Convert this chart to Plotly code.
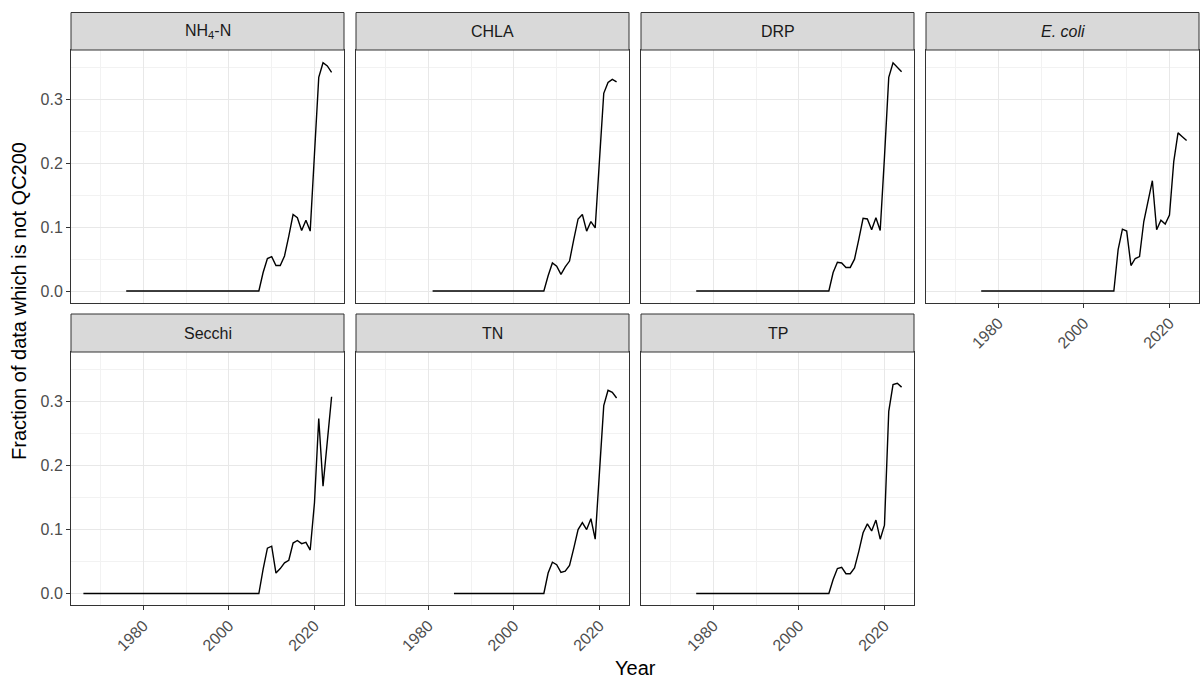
import plotly.graph_objects as go

# Fraction of records per year that are not flagged QC200, by parameter
RECENT_YEARS = [2007, 2008, 2009, 2010, 2011, 2012, 2013, 2014, 2015,
                2016, 2017, 2018, 2019, 2020, 2021, 2022, 2023, 2024]

START_YEAR = {
    "NH4-N": 1976, "CHLA": 1981, "DRP": 1976, "E. coli": 1976,
    "Secchi": 1966, "TN": 1986, "TP": 1976,
}

nh4n = [0.0, 0.029, 0.051, 0.054, 0.040, 0.040, 0.055, 0.086, 0.120,
        0.115, 0.095, 0.111, 0.094, 0.215, 0.335, 0.358, 0.353, 0.343]
chla = [0.0, 0.024, 0.044, 0.039, 0.026, 0.038, 0.047, 0.081, 0.113,
        0.120, 0.094, 0.109, 0.099, 0.205, 0.310, 0.327, 0.332, 0.328]
drp = [0.0, 0.029, 0.045, 0.044, 0.037, 0.037, 0.050, 0.081, 0.114,
       0.113, 0.096, 0.115, 0.095, 0.210, 0.335, 0.358, 0.351, 0.344]
ecoli = [0.0, 0.065, 0.097, 0.094, 0.040, 0.051, 0.054, 0.109, 0.140,
         0.173, 0.096, 0.111, 0.105, 0.119, 0.203, 0.248, 0.242, 0.236]
secchi = [0.0, 0.038, 0.071, 0.074, 0.032, 0.039, 0.048, 0.052, 0.079,
          0.083, 0.078, 0.080, 0.068, 0.142, 0.274, 0.168, 0.238, 0.308]
tn = [0.0, 0.032, 0.049, 0.045, 0.033, 0.035, 0.044, 0.071, 0.100,
      0.111, 0.100, 0.117, 0.085, 0.190, 0.294, 0.318, 0.315, 0.306]
tp = [0.0, 0.022, 0.039, 0.041, 0.031, 0.031, 0.040, 0.066, 0.095,
      0.109, 0.098, 0.115, 0.085, 0.107, 0.285, 0.327, 0.329, 0.323]

PANELS = [
    ("NH4-N", "NH<sub>4</sub>-N", nh4n),
    ("CHLA", "CHLA", chla),
    ("DRP", "DRP", drp),
    ("E. coli", "<i>E. coli</i>", ecoli),
    ("Secchi", "Secchi", secchi),
    ("TN", "TN", tn),
    ("TP", "TP", tp),
]

X_TICKS = [1980, 2000, 2020]
X_MINOR = [1970, 1990, 2010]
Y_TICKS = [0.0, 0.1, 0.2, 0.3]
Y_MINOR = [0.05, 0.15, 0.25, 0.35]

# Page geometry (pixels)
W, H = 1202, 678
M_L, M_R, M_T, M_B = 71, 3, 12, 73
PW = W - M_L - M_R
PH = H - M_T - M_B
COL_EDGES = [(71, 344), (356, 629), (641, 914), (926, 1199)]
ROW_EDGES = [  # (strip top, panel top, panel bottom)
    (12.5, 50, 302.5),
    (314, 352, 605),
]


def px_x(p):
    return (p - M_L) / PW


def px_y(p):
    return (H - M_B - p) / PH


FONT = "Liberation Sans, Arial, sans-serif"
BORDER = "#333333"
GRID = "#E8E8E8"
GRID_MINOR = "#F2F2F2"

fig = go.Figure()
layout = dict(
    width=W, height=H,
    margin=dict(l=M_L, r=M_R, t=M_T, b=M_B),
    paper_bgcolor="white", plot_bgcolor="white",
    showlegend=False,
    font=dict(family=FONT, size=16, color="#4D4D4D"),
)
shapes = []
annotations = []

for i, (key, label, vals) in enumerate(PANELS):
    r, c = divmod(i, 4)
    n = i + 1
    xa = "x" if n == 1 else f"x{n}"
    ya = "y" if n == 1 else f"y{n}"
    years = [START_YEAR[key]] + RECENT_YEARS
    values = [0.0] + vals
    fig.add_trace(go.Scatter(
        x=years, y=values, mode="lines",
        line=dict(color="black", width=1.4),
        xaxis=xa, yaxis=ya, hoverinfo="x+y",
    ))

    x0, x1 = COL_EDGES[c]
    s_top, p_top, p_bot = ROW_EDGES[r]
    show_x = (r == 1) or (c == 3)
    show_y = (c == 0)

    layout["xaxis" if n == 1 else f"xaxis{n}"] = dict(
        domain=[px_x(x0), px_x(x1)],
        anchor=ya,
        range=[1963.1, 2026.9],
        tickvals=X_TICKS,
        showticklabels=show_x,
        ticks="outside" if show_x else "",
        ticklen=4, tickwidth=1, tickcolor=BORDER,
        tickangle=-45,
        tickfont=dict(size=16, color="#4D4D4D"),
        showgrid=True, gridcolor=GRID, gridwidth=1.3,
        minor=dict(tickvals=X_MINOR, showgrid=True, gridcolor=GRID_MINOR,
                   gridwidth=0.8, ticks=""),
        showline=True, mirror=True, linecolor=BORDER, linewidth=1,
        zeroline=False,
    )
    layout["yaxis" if n == 1 else f"yaxis{n}"] = dict(
        domain=[px_y(p_bot), px_y(p_top)],
        anchor=xa,
        range=[-0.018, 0.378],
        tickvals=Y_TICKS,
        tickformat=".1f",
        showticklabels=show_y,
        ticks="outside" if show_y else "",
        ticklen=4, tickwidth=1, tickcolor=BORDER,
        tickfont=dict(size=16, color="#4D4D4D"),
        showgrid=True, gridcolor=GRID, gridwidth=1.3,
        minor=dict(tickvals=Y_MINOR, showgrid=True, gridcolor=GRID_MINOR,
                   gridwidth=0.8, ticks=""),
        showline=True, mirror=True, linecolor=BORDER, linewidth=1,
        zeroline=False,
    )

    # facet strip
    shapes.append(dict(
        type="rect", xref="paper", yref="paper",
        x0=px_x(x0), x1=px_x(x1), y0=px_y(p_top), y1=px_y(s_top),
        fillcolor="#D9D9D9", line=dict(color=BORDER, width=1), layer="above",
    ))
    annotations.append(dict(
        xref="paper", yref="paper",
        x=px_x((x0 + x1) / 2), y=px_y((s_top + p_top) / 2),
        text=label, showarrow=False, xanchor="center", yanchor="middle",
        font=dict(family=FONT, size=16, color="#1A1A1A"),
    ))

annotations.append(dict(
    xref="paper", yref="paper", x=px_x(19), y=px_y(301),
    text="Fraction of data which is not QC200", textangle=-90,
    showarrow=False, xanchor="center", yanchor="middle",
    font=dict(family=FONT, size=20, color="black"),
))
annotations.append(dict(
    xref="paper", yref="paper", x=px_x(635), y=px_y(668),
    text="Year", showarrow=False, xanchor="center", yanchor="middle",
    font=dict(family=FONT, size=20, color="black"),
))

layout["shapes"] = shapes
layout["annotations"] = annotations
fig.update_layout(**layout)
fig.write_html("out.html")
